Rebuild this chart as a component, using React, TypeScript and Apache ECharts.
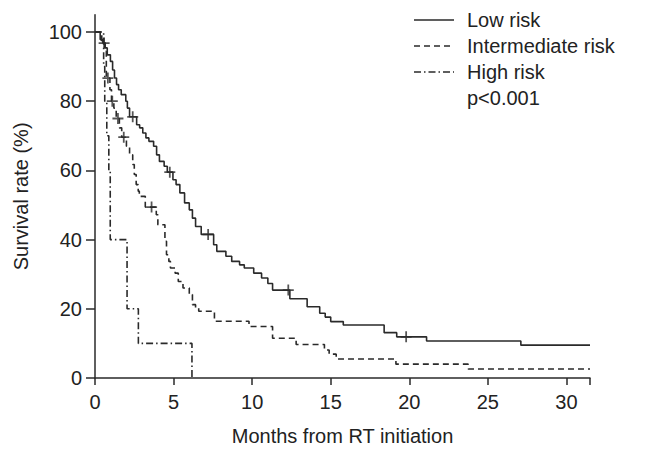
import React, { useEffect, useRef } from "react";
import * as echarts from "echarts";

// Kaplan-Meier step curves (time in months, survival %)
const lowT = [0, 0.33, 0.5, 0.65, 0.78, 0.98, 1.12, 1.24, 1.37, 1.5, 1.67, 1.96, 2.06, 2.2, 2.65, 2.84, 3.04, 3.24, 3.43, 3.73, 3.92, 4.1, 4.4, 4.6, 4.96, 5.16, 5.4, 5.7, 6.0, 6.2, 6.4, 6.76, 7.55, 7.75, 8.33, 8.7, 9.2, 9.5, 10.1, 10.6, 11.0, 11.3, 12.4, 13.5, 14.3, 14.65, 15.0, 15.8, 18.4, 19.2, 21.1, 27.1, 31.5];
const lowS = [100, 97.8, 96.8, 95.4, 93.4, 91.5, 89, 86.7, 84.8, 83.3, 81.9, 80, 78, 75.5, 73.2, 72.3, 70.8, 69.4, 68.4, 67, 64.5, 62.6, 61.2, 59.5, 57.3, 55.9, 53.5, 50.6, 48.6, 46.2, 43.8, 41.5, 38.5, 36.6, 35.2, 33.7, 32.7, 31.8, 30.3, 28.9, 27.3, 25.4, 22.9, 20.6, 18.7, 17.6, 16.3, 15.3, 13.1, 11.9, 10.7, 9.5, 9.5];

const intT = [0, 0.43, 0.62, 0.72, 0.95, 1.05, 1.2, 1.35, 1.55, 1.7, 2.0, 2.2, 2.4, 2.5, 2.62, 2.75, 2.82, 3.2, 3.9, 4.0, 4.45, 4.55, 4.7, 4.8, 5.1, 5.3, 5.6, 6.0, 6.2, 6.4, 6.6, 7.6, 9.8, 11.3, 12.8, 14.6, 14.9, 15.35, 19.15, 23.75, 31.5];
const intS = [100, 97.3, 94.4, 86.7, 83.3, 80, 78, 75, 72.3, 69.6, 67, 64.5, 61.7, 58.8, 55.9, 54, 52.5, 49.4, 47.2, 44.3, 39.5, 35.6, 33.7, 31.8, 30.3, 27.9, 26, 24.1, 21.2, 20.2, 19.3, 16.4, 14.9, 11.5, 9.7, 8.1, 6.9, 5.5, 4.0, 2.6, 2.6];

const highT = [0, 0.55, 0.62, 0.75, 0.88, 0.97, 2.04, 2.76, 6.17];
const highS = [100, 90, 80, 70, 60, 40, 20, 10, 0];

// Censored observations
const lowCensorT = [0.58, 2.4, 4.76, 7.2, 12.3, 19.8];
const lowCensorS = [96.8, 75.5, 59.5, 41.5, 25.4, 11.9];
const intCensorT = [0.82, 1.1, 1.46, 1.83, 3.6];
const intCensorS = [86.7, 80, 75, 69.6, 49.4];

const seriesNames = ["Low risk", "Intermediate risk", "High risk"];
const pValueText = "p<0.001";
const xTicks = [0, 5, 10, 15, 20, 25, 30];
const xTickMarks = [0, 5, 10, 15, 20, 25, 30, 31.5];
const yTicks = [0, 20, 40, 60, 80, 100];

const zip = (a: number[], b: number[]) => a.map((v, i) => [v, b[i]]);

const FONT = "'Liberation Sans', Arial, Helvetica, sans-serif";
const FS = 20;
const INK = "#222222";
const LINE = "#2a2a2a";
const plusPath =
  "path://M4.2,0h1.6v4.2h4.2v1.6h-4.2v4.2h-1.6v-4.2h-4.2v-1.6h4.2z";

export default function App() {
  const ref = useRef<HTMLDivElement>(null);

  useEffect(() => {
    if (!ref.current) return;
    const chart = echarts.init(ref.current, undefined, { renderer: "svg" });

    const dashes = [null, [6, 4], [7, 3, 1.5, 3]];
    const legendRows = [20, 46, 72];

    const graphics: any[] = [];
    seriesNames.forEach((name, i) => {
      graphics.push({
        type: "line",
        shape: { x1: 414, y1: legendRows[i], x2: 454, y2: legendRows[i] },
        style: {
          stroke: LINE,
          lineWidth: 1.5,
          lineDash: dashes[i] || undefined,
        },
      });
      graphics.push({
        type: "text",
        x: 467,
        y: legendRows[i],
        style: {
          text: name,
          fill: INK,
          font: `${FS}px ${FONT}`,
          verticalAlign: "middle",
          align: "left",
        },
      });
    });
    graphics.push({
      type: "text",
      x: 467,
      y: 98,
      style: {
        text: pValueText,
        fill: INK,
        font: `${FS}px ${FONT}`,
        verticalAlign: "middle",
        align: "left",
      },
    });

    const lineSeries = (name: string, data: number[][], type: any) => ({
      name,
      type: "line",
      step: "end",
      data,
      symbol: "none",
      showSymbol: false,
      lineStyle: { color: LINE, width: 1.6, type },
      z: 3,
    });

    chart.setOption({
      animation: false,
      backgroundColor: "#ffffff",
      grid: { left: 95, right: 56, top: 14.7, bottom: 79 },
      xAxis: {
        type: "value",
        min: 0,
        max: 31.5,
        name: "Months from RT initiation",
        nameLocation: "middle",
        nameGap: 48,
        nameTextStyle: { fontSize: FS, color: INK, fontFamily: FONT },
        axisLine: { show: true, onZero: false, lineStyle: { color: LINE, width: 1.5 } },
        axisTick: {
          show: true,
          length: 7,
          customValues: xTickMarks,
          lineStyle: { color: LINE, width: 1.5 },
        },
        axisLabel: {
          customValues: xTicks,
          fontSize: FS,
          color: INK,
          fontFamily: FONT,
          margin: 14,
        },
        splitLine: { show: false },
      },
      yAxis: {
        type: "value",
        min: 0,
        max: 105,
        name: "Survival rate (%)",
        nameLocation: "middle",
        nameGap: 64,
        nameTextStyle: { fontSize: FS, color: INK, fontFamily: FONT },
        axisLine: { show: true, onZero: false, lineStyle: { color: LINE, width: 1.5 } },
        axisTick: {
          show: true,
          length: 9,
          customValues: yTicks,
          lineStyle: { color: LINE, width: 1.5 },
        },
        axisLabel: {
          customValues: yTicks,
          fontSize: FS,
          color: INK,
          fontFamily: FONT,
          margin: 13,
        },
        splitLine: { show: false },
      },
      series: [
        lineSeries(seriesNames[0], zip(lowT, lowS), "solid"),
        lineSeries(seriesNames[1], zip(intT, intS), [6, 4]),
        lineSeries(seriesNames[2], zip(highT, highS), [7, 3, 1.5, 3]),
        {
          name: "Low risk censored",
          type: "scatter",
          data: zip(lowCensorT, lowCensorS),
          symbol: plusPath,
          symbolSize: 11,
          itemStyle: { color: LINE },
          z: 4,
        },
        {
          name: "Intermediate risk censored",
          type: "scatter",
          data: zip(intCensorT, intCensorS),
          symbol: plusPath,
          symbolSize: 11,
          itemStyle: { color: LINE },
          z: 4,
        },
      ],
      graphic: graphics,
    });

    return () => chart.dispose();
  }, []);

  return (
    <div
      ref={ref}
      style={{ position: "fixed", left: 0, top: 0, width: 646, height: 457, background: "#fff" }}
    />
  );
}
